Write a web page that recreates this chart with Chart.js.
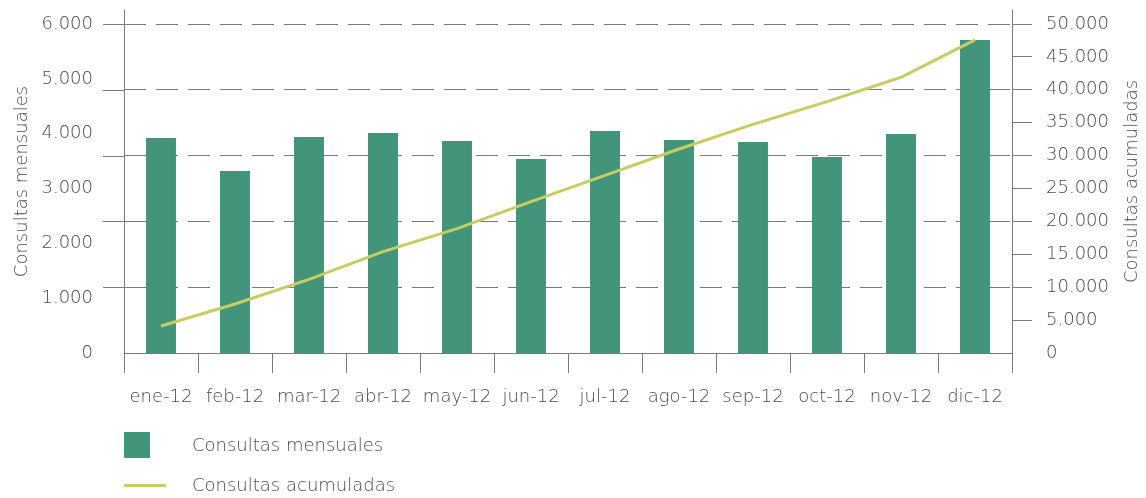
<!DOCTYPE html>
<html>
<head>
<script src="https://cdn.jsdelivr.net/npm/chart.js@4"></script>
<style>
  body { margin: 0; background: #fff; }
  #wrap { position: relative; width: 1146px; height: 498px; }
  #legend { position: absolute; left: 124px; top: 432px; font: 200 18px "DejaVu Sans", sans-serif; color: #4a4a4a; }
  .item { position: relative; height: 30px; margin-bottom: 10px; }
  .item .sym { position: absolute; left: 0; }
  .item span.txt { position: absolute; left: 68px; top: 2px; white-space: nowrap; }
</style>
</head>
<body>
<div id="wrap">
  <canvas id="chart" width="1146" height="498"></canvas>
  <div id="legend"></div>
</div>
<script>
// meses
var months = ['ene-12', 'feb-12', 'mar-12', 'abr-12', 'may-12', 'jun-12',
              'jul-12', 'ago-12', 'sep-12', 'oct-12', 'nov-12', 'dic-12'];

// consultas por mes (eje izquierdo)
var mensuales = [3921, 3319, 3939, 4012, 3866, 3538, 4049, 3885, 3848, 3575, 3994, 5709];

// consultas acumuladas (eje derecho)
var acumuladas = [4100, 7450, 11200, 15400, 18900, 23000, 27000, 31000, 34750, 38200, 41900, 47600];

var leftTitle = 'Consultas mensuales', rightTitle = 'Consultas acumuladas';
var leftStep = 1000, leftTop = 6000;
var rightStep = 5000, rightTop = 50000, rightGrid = 10000;

var green = '#42957a', lime = '#c8cc62', axisGray = '#7a7a7a', textGray = '#4a4a4a';
var fontFamily = '"DejaVu Sans", sans-serif';

function fmt(v) {
	return String(v).replace(/\B(?=(\d{3})+(?!\d))/g, '.');
}

// no extra room for half tick labels above/below the plot
function noPad(s) {
	s.paddingTop = 0;
	s.paddingBottom = 0;
}

Chart.defaults.font.family = fontFamily;
Chart.defaults.font.size = 18;
Chart.defaults.font.weight = 200;
Chart.defaults.color = textGray;

// axis lines poke out above the top tick, stubs left of the left axis, both axis titles
var extras = {
	id: 'extras',
	afterDraw: function(chart) {
		var ctx = chart.ctx, area = chart.chartArea, y1 = chart.scales.y1, y = chart.scales.y;
		var over = 14;
		ctx.save();
		ctx.strokeStyle = axisGray;
		ctx.lineWidth = 1;
		[area.left, area.right].forEach(function(x) {
			var px = Math.round(x) + 0.5;
			ctx.beginPath();
			ctx.moveTo(px, area.top - over);
			ctx.lineTo(px, area.top);
			ctx.stroke();
		});
		y1.ticks.forEach(function(t) {
			if (t.value > 0 && t.value % rightGrid === 0) {
				var py = Math.round(y1.getPixelForValue(t.value)) + 0.5;
				ctx.beginPath();
				ctx.moveTo(area.left - 21, py);
				ctx.lineTo(area.left, py);
				ctx.stroke();
			}
		});
		ctx.fillStyle = textGray;
		ctx.font = '200 18px ' + fontFamily;
		ctx.textAlign = 'center';
		ctx.textBaseline = 'middle';
		var midY = (area.top - over + area.bottom) / 2;
		[[y.left + 22, leftTitle], [y1.right - 14, rightTitle]].forEach(function(a) {
			ctx.save();
			ctx.translate(a[0], midY);
			ctx.rotate(-Math.PI / 2);
			ctx.fillText(a[1], 0, 0);
			ctx.restore();
		});
		ctx.restore();
	}
};

var chart = new Chart(document.getElementById('chart'), {
	data: {
		labels: months,
		datasets: [{
			type: 'bar',
			label: 'Consultas mensuales',
			data: mensuales,
			yAxisID: 'y',
			backgroundColor: green,
			barPercentage: 0.405,
			categoryPercentage: 1,
			order: 2
		}, {
			type: 'line',
			label: 'Consultas acumuladas',
			data: acumuladas,
			yAxisID: 'y1',
			borderColor: lime,
			borderWidth: 3,
			pointRadius: 0,
			tension: 0,
			fill: false,
			order: 1
		}]
	},
	options: {
		responsive: false,
		animation: false,
		layout: { padding: { top: 24, bottom: 85, left: 0, right: 0 } },
		plugins: { legend: { display: false }, tooltip: { enabled: false } },
		scales: {
			x: {
				offset: true,
				grid: { offset: true, drawOnChartArea: false, tickLength: 20, color: axisGray },
				border: { color: axisGray },
				ticks: { padding: 14, maxRotation: 0, autoSkip: false },
				afterFit: function(s) { s.height = 60; }
			},
			y: {
				position: 'left',
				min: 0,
				max: leftTop,
				grid: { display: false },
				border: { color: axisGray },
				ticks: { stepSize: leftStep, padding: 23, callback: function(v) { return fmt(v); } },
				afterFit: function(s) { s.width = 124; noPad(s); }
			},
			y1: {
				position: 'right',
				min: 0,
				max: rightTop,
				grid: {
					tickLength: 20,
					tickBorderDash: [],
					color: function(c) { return c.tick && c.tick.value > 0 && c.tick.value % rightGrid === 0 ? axisGray : 'rgba(0,0,0,0)'; },
					tickColor: function(c) { return c.tick && c.tick.value > 0 ? axisGray : 'rgba(0,0,0,0)'; }
				},
				border: { color: axisGray, dash: [22, 10] },
				ticks: { stepSize: rightStep, padding: 14, callback: function(v) { return fmt(v); } },
				afterFit: function(s) { s.width = 134; noPad(s); }
			}
		}
	},
	plugins: [extras]
});

// legend below the chart
var legend = document.getElementById('legend');
chart.data.datasets.forEach(function(ds) {
	var item = document.createElement('div');
	item.className = 'item';
	var sym = document.createElement('div');
	sym.className = 'sym';
	if (ds.type === 'bar') {
		sym.style.cssText = 'top:0px;width:26px;height:26px;background:' + ds.backgroundColor;
	} else {
		sym.style.cssText = 'top:12px;width:42px;height:3px;background:' + ds.borderColor;
	}
	var txt = document.createElement('span');
	txt.className = 'txt';
	txt.textContent = ds.label;
	item.appendChild(sym);
	item.appendChild(txt);
	legend.appendChild(item);
});
</script>
</body>
</html>
